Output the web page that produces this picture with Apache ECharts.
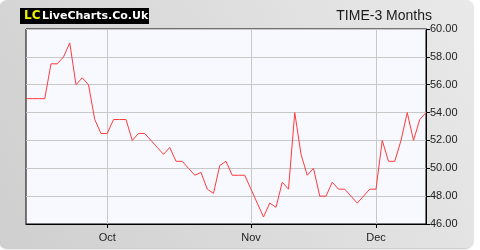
<!DOCTYPE html>
<html><head><meta charset="utf-8">
<script src="https://cdn.jsdelivr.net/npm/echarts@6/dist/echarts.min.js"></script>
<style>html,body{margin:0;padding:0;background:#fff}#c{width:480px;height:250px}</style>
</head><body><div id="c"></div>
<script>
const values = [55,55,55,55,57.5,57.5,58,59,56,56.5,56,53.5,52.5,52.5,53.5,53.5,53.5,52,52.5,52.5,52,51.5,51,51.5,50.5,50.5,50,49.5,49.7,48.5,48.2,50.2,50.5,49.5,49.5,49.5,48.5,47.5,46.5,47.5,47.2,49,48.5,54,51,49.5,50,48,48,49,48.5,48.5,48,47.5,48,48.5,48.5,52,50.5,50.5,52,54,52,53.5,54];
const monthLabels = ['Oct','Nov','Dec'];
const monthStarts = [13,36,56];
const yTicks = [46,48,50,52,54,56,58,60];
const title = 'TIME-3 Months';

const categories = values.map((v,i)=>{const k=monthStarts.indexOf(i);return k>=0?monthLabels[k]:'';});
const isMonth = (i)=>monthStarts.indexOf(i)>=0;

const chart = echarts.init(document.getElementById('c'),null,{renderer:'canvas'});
chart.setOption({
  animation:false,
  backgroundColor:'#ffffff',
  graphic:[
    {type:'rect',z:-10,shape:{x:0,y:0,width:474,height:248,r:8},
     style:{fill:new echarts.graphic.LinearGradient(0,1,1,0,[{offset:0,color:'#cfcfcf'},{offset:1,color:'#e9e9e9'}]),
            shadowBlur:2,shadowColor:'rgba(0,0,0,0.25)',shadowOffsetX:-1,shadowOffsetY:1}},
    {type:'rect',z:5,shape:{x:20,y:8,width:129,height:16},style:{fill:'#000'}},
    {type:'text',z:6,style:{x:24,y:16,text:'LC',fill:'#f0f000',font:'bold 12px "DejaVu Sans", Arial',textVerticalAlign:'middle'}},
    {type:'text',z:6,style:{x:42,y:16,text:'LiveCharts.Co.Uk',fill:'#ffffff',font:'bold 11px "DejaVu Sans", Arial',textVerticalAlign:'middle'}},
    {type:'text',z:6,style:{x:432,y:16,text:title,fill:'#1a1a1a',font:'14px "Liberation Sans", Arial',textAlign:'right',textVerticalAlign:'middle'}}
  ],
  grid:{left:26,right:54,top:29,bottom:26,show:true,backgroundColor:'#f8f8ff',borderColor:'#000',borderWidth:1},
  xAxis:{type:'category',data:categories,boundaryGap:false,
    axisLine:{lineStyle:{color:'#000'}},
    axisTick:{length:4,lineStyle:{color:'#000'},interval:(i)=>isMonth(i)},
    axisLabel:{interval:(i)=>isMonth(i),color:'#222',fontSize:11,fontFamily:'Liberation Sans, Arial',margin:8},
    splitLine:{show:true,interval:(i)=>isMonth(i),lineStyle:{color:'#c8c8c8'}}},
  yAxis:{type:'value',position:'right',min:yTicks[0],max:yTicks[yTicks.length-1],interval:2,
    axisLine:{show:true,lineStyle:{color:'#000'}},
    axisTick:{show:true,length:4,lineStyle:{color:'#000'}},
    axisLabel:{color:'#222',fontSize:11,fontFamily:'Liberation Sans, Arial',margin:4,formatter:(v)=>v.toFixed(2)},
    splitLine:{show:true,lineStyle:{color:'#c8c8c8'}}},
  series:[{type:'line',data:values,symbol:'none',lineStyle:{color:'#ff3c3c',width:1}}]
});
</script></body></html>
